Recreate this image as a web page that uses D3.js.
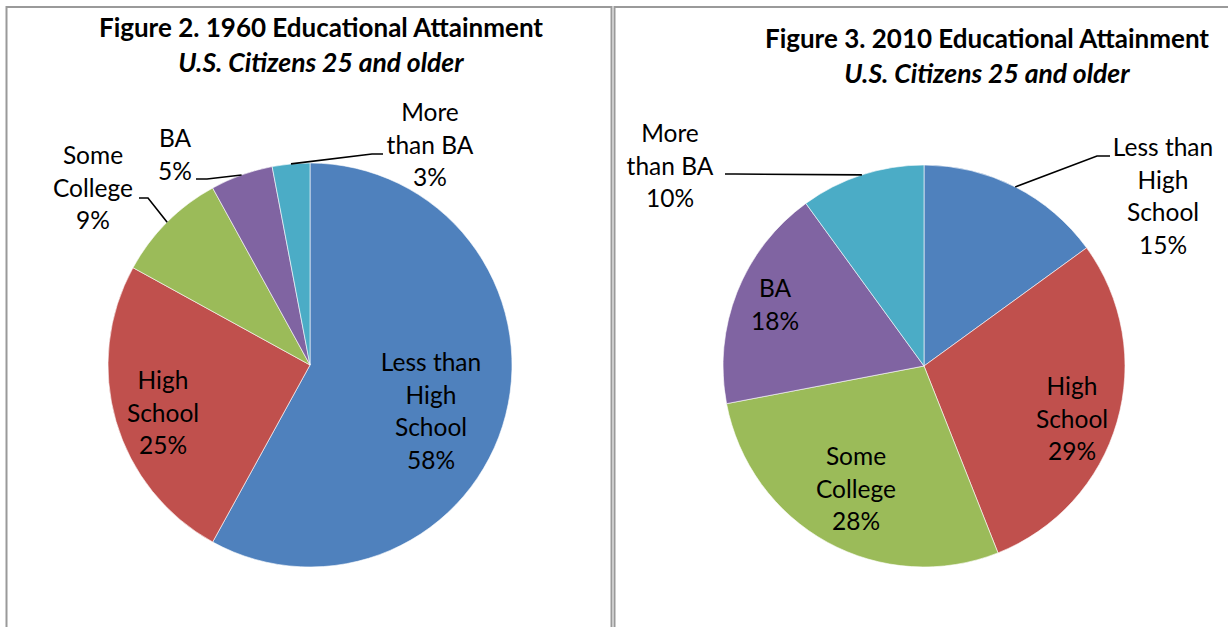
<!DOCTYPE html>
<html>
<head>
<meta charset="utf-8">
<script src="https://cdn.jsdelivr.net/npm/d3@7"></script>
<style>
  body { margin: 0; background: #fff; }
  text { font-family: Lato, "Open Sans", sans-serif; fill: #000; }
</style>
</head>
<body>
<div id="chart"></div>
<script>
// Data
var categories = ["Less than High School", "High School", "Some College", "BA", "More than BA"];
var values1960 = [58, 25, 9, 5, 3];
var values2010 = [15, 29, 28, 18, 10];
var labelLines = [["Less than", "High", "School"], ["High", "School"], ["Some", "College"], ["BA"], ["More", "than BA"]];
var colors = ["#4F81BD", "#C0504D", "#9BBB59", "#8064A2", "#4BACC6"];

var width = 1228, height = 627;
var lineH = 32.7;

var svg = d3.select("#chart").append("svg")
    .attr("width", width)
    .attr("height", height);

// panel frames
var panels = [
    {x: 6.5, w: 605, title: "Figure 2. 1960 Educational Attainment", tx: 321, ty: 37,
     cx: 310, cy: 365, r: 202, values: values1960,
     // label placement: [dx, dy of first baseline], leader: [text end, elbow] or null
     layout: [
        {dx: 121, dy: 6},
        {dx: -147, dy: 24},
        {dx: -217, dy: -201, leader: [[139, 198], [148, 198]]},
        {dx: -135, dy: -218, leader: [[196, 179], [207, 179]]},
        {dx: 120, dy: -244, leader: [[383, 154], [372, 154]]}
     ]},
    {x: 614.5, w: 700, title: "Figure 3. 2010 Educational Attainment", tx: 987, ty: 48,
     cx: 924, cy: 366, r: 201, values: values2010,
     layout: [
        {dx: 239, dy: -210, leader: [[1110, 156], [1097, 156]]},
        {dx: 148, dy: 29},
        {dx: -68, dy: 99},
        {dx: -149, dy: -69},
        {dx: -254, dy: -224, leader: [[725, 174], [735, 174]]}
     ]}
];

var pie = d3.pie().sort(null).value(d => d);

panels.forEach(function (p) {
    svg.append("rect")
        .attr("x", p.x)
        .attr("y", 7)
        .attr("width", p.w)
        .attr("height", 700)
        .attr("fill", "none")
        .attr("stroke", "#9a9a9a")
        .attr("stroke-width", 2);

    svg.append("text")
        .attr("x", p.tx)
        .attr("y", p.ty)
        .attr("text-anchor", "middle")
        .attr("font-size", 26)
        .attr("font-weight", "bold")
        .text(p.title);

    svg.append("text")
        .attr("x", p.tx)
        .attr("y", p.ty + 35)
        .attr("text-anchor", "middle")
        .attr("font-size", 26.5)
        .attr("font-weight", "bold")
        .attr("font-style", "italic")
        .text("U.S. Citizens 25 and older");

    var arcs = pie(p.values);
    var arc = d3.arc().innerRadius(0).outerRadius(p.r);

    var g = svg.append("g")
        .attr("transform", "translate(" + p.cx + "," + p.cy + ")");

    g.selectAll("path")
        .data(arcs)
        .enter()
        .append("path")
        .attr("d", arc)
        .attr("fill", (d, i) => colors[i])
        .attr("stroke", "#fff")
        .attr("stroke-width", 0.6);

    // leader lines
    arcs.forEach(function (d, i) {
        var lay = p.layout[i];
        if (!lay.leader) return;
        var mid = (d.startAngle + d.endAngle) / 2;
        var ex = p.cx + p.r * Math.sin(mid);
        var ey = p.cy - p.r * Math.cos(mid);
        svg.append("polyline")
            .attr("points", [lay.leader[0], lay.leader[1], [ex, ey]].map(q => q.join(",")).join(" "))
            .attr("fill", "none")
            .attr("stroke", "#000")
            .attr("stroke-width", 1.6);
    });

    // labels
    arcs.forEach(function (d, i) {
        var lay = p.layout[i];
        var lines = labelLines[i].concat([d.data + "%"]);
        var t = svg.append("text")
            .attr("text-anchor", "middle")
            .attr("font-size", 24.5);
        lines.forEach(function (s, k) {
            t.append("tspan")
                .attr("x", p.cx + lay.dx)
                .attr("y", p.cy + lay.dy + k * lineH)
                .text(s);
        });
    });
});
</script>
</body>
</html>
